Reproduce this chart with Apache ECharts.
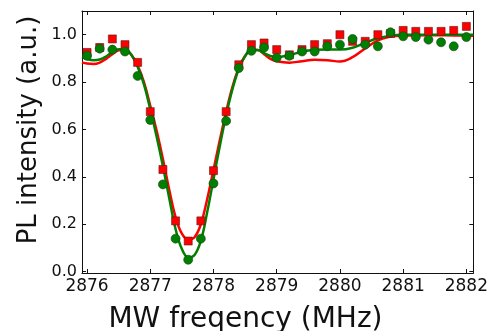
<!DOCTYPE html>
<html>
<head>
<meta charset="utf-8">
<script src="https://cdn.jsdelivr.net/npm/echarts@6/dist/echarts.min.js"></script>
<style>
  html, body { margin: 0; padding: 0; background: #fff; }
  #chart { width: 491px; height: 331px; }
</style>
</head>
<body>
<div id="chart"></div>
<script>
// ---- data ----
const freqs = [2876.0, 2876.2, 2876.4, 2876.6, 2876.8, 2877.0, 2877.2, 2877.4, 2877.6, 2877.8,
  2878.0, 2878.2, 2878.4, 2878.6, 2878.8, 2879.0, 2879.2, 2879.4, 2879.6, 2879.8,
  2880.0, 2880.2, 2880.4, 2880.6, 2880.8, 2881.0, 2881.2, 2881.4, 2881.6, 2881.8, 2882.0];
const redPts = [0.925, 0.946, 0.982, 0.958, 0.883, 0.675, 0.431, 0.214, 0.129, 0.214,
  0.426, 0.675, 0.873, 0.958, 0.965, 0.937, 0.915, 0.937, 0.958, 0.962,
  1.0, 0.972, 0.972, 1.0, 1.005, 1.018, 1.014, 1.014, 1.014, 1.018, 1.035];
const greenPts = [0.911, 0.941, 0.937, 0.929, 0.826, 0.640, 0.368, 0.139, 0.050, 0.139,
  0.372, 0.636, 0.859, 0.932, 0.946, 0.903, 0.911, 0.929, 0.929, 0.951,
  0.958, 0.982, 0.958, 0.951, 1.01, 0.993, 0.99, 0.979, 0.968, 0.951, 0.990];

const fitFreqs = [2875.92, 2876.0, 2876.1, 2876.2, 2876.3, 2876.4, 2876.5, 2876.6, 2876.7, 2876.8,
  2876.9, 2877.0, 2877.1, 2877.2, 2877.3, 2877.4, 2877.5, 2877.6, 2877.7, 2877.8,
  2877.9, 2878.0, 2878.1, 2878.2, 2878.3, 2878.4, 2878.5, 2878.6, 2878.7, 2878.8,
  2878.9, 2879.0, 2879.2, 2879.4, 2879.6, 2879.8, 2880.0, 2880.2, 2880.4, 2880.6,
  2880.8, 2881.0, 2881.4, 2881.8, 2882.11];
const redFit = [0.883, 0.878, 0.876, 0.882, 0.898, 0.918, 0.934, 0.936, 0.915, 0.87,
  0.80, 0.70, 0.595, 0.475, 0.345, 0.23, 0.16, 0.135, 0.145, 0.20,
  0.305, 0.43, 0.555, 0.675, 0.78, 0.86, 0.91, 0.935, 0.935, 0.918,
  0.898, 0.888, 0.882, 0.888, 0.894, 0.892, 0.887, 0.905, 0.942, 0.976,
  0.992, 0.997, 0.998, 0.997, 0.996];
const greenFit = [0.905, 0.897, 0.892, 0.895, 0.908, 0.926, 0.939, 0.938, 0.915, 0.865,
  0.79, 0.685, 0.57, 0.445, 0.31, 0.18, 0.095, 0.06, 0.07, 0.13,
  0.25, 0.39, 0.53, 0.66, 0.77, 0.855, 0.91, 0.935, 0.935, 0.922,
  0.910, 0.906, 0.914, 0.928, 0.936, 0.938, 0.937, 0.945, 0.966, 0.985,
  0.996, 1.0, 1.0, 1.0, 1.0];

const xTicks = [2876, 2877, 2878, 2879, 2880, 2881, 2882];
const yTicks = [0.0, 0.2, 0.4, 0.6, 0.8, 1.0];

// ---- style ----
const FONT = 'DejaVu Sans';
const INK = '#111';
const RED = '#ff0000';
const GREEN = '#008000';

const pairs = (xs, ys) => xs.map((x, i) => [x, ys[i]]);

const frameAxis = {
  axisLine: { show: true, onZero: false, lineStyle: { color: INK, width: 1 } },
  splitLine: { show: false },
};

const chart = echarts.init(document.getElementById('chart'), null, { renderer: 'canvas' });

chart.setOption({
  backgroundColor: '#fff',
  animation: false,
  grid: { left: 82, right: 17, top: 11, bottom: 58 },
  xAxis: [
    {
      type: 'value', min: 2875.92, max: 2882.11, position: 'bottom',
      ...frameAxis,
      axisTick: { inside: true, length: 4, lineStyle: { color: INK }, customValues: xTicks },
      axisLabel: {
        customValues: xTicks, margin: 5, color: INK, fontFamily: FONT, fontSize: 17,
        formatter: v => String(v),
      },
    },
    {
      type: 'value', min: 2875.92, max: 2882.11, position: 'top',
      ...frameAxis,
      axisTick: { inside: true, length: 4, lineStyle: { color: INK }, customValues: xTicks },
      axisLabel: { show: false },
    },
  ],
  yAxis: [
    {
      type: 'value', min: -0.006, max: 1.1, position: 'left',
      ...frameAxis,
      axisTick: { inside: true, length: 4, lineStyle: { color: INK }, customValues: yTicks },
      axisLabel: {
        customValues: yTicks, margin: 5, color: INK, fontFamily: FONT, fontSize: 16,
        formatter: v => v.toFixed(1),
      },
    },
    {
      type: 'value', min: -0.006, max: 1.1, position: 'right',
      ...frameAxis,
      axisTick: { inside: true, length: 4, lineStyle: { color: INK }, customValues: yTicks },
      axisLabel: { show: false },
    },
  ],
  graphic: [
    {
      type: 'text', left: 'center', top: 306,
      style: { text: 'MW freqency (MHz)', font: '28px "DejaVu Sans"', fill: INK },
    },
    {
      type: 'text', x: 16, y: 130, rotation: Math.PI / 2,
      style: {
        text: 'PL intensity (a.u.)', font: '26px "DejaVu Sans"', fill: INK,
        align: 'center', verticalAlign: 'top',
      },
    },
  ],
  series: [
    {
      name: 'red fit', type: 'line', data: pairs(fitFreqs, redFit),
      smooth: 0.4, showSymbol: false, z: 2,
      lineStyle: { color: RED, width: 2.5 },
    },
    {
      name: 'green fit', type: 'line', data: pairs(fitFreqs, greenFit),
      smooth: 0.4, showSymbol: false, z: 3,
      lineStyle: { color: GREEN, width: 2.5 },
    },
    {
      name: 'red data', type: 'scatter', data: pairs(freqs, redPts),
      symbol: 'rect', symbolSize: 8, z: 4,
      itemStyle: { color: RED, borderColor: '#5a1a1a', borderWidth: 0.6, opacity: 1 },
    },
    {
      name: 'green data', type: 'scatter', data: pairs(freqs, greenPts),
      symbol: 'circle', symbolSize: 9, z: 5,
      itemStyle: { color: GREEN, borderColor: '#1e3a1e', borderWidth: 0.6, opacity: 1 },
    },
  ],
});
</script>
</body>
</html>
